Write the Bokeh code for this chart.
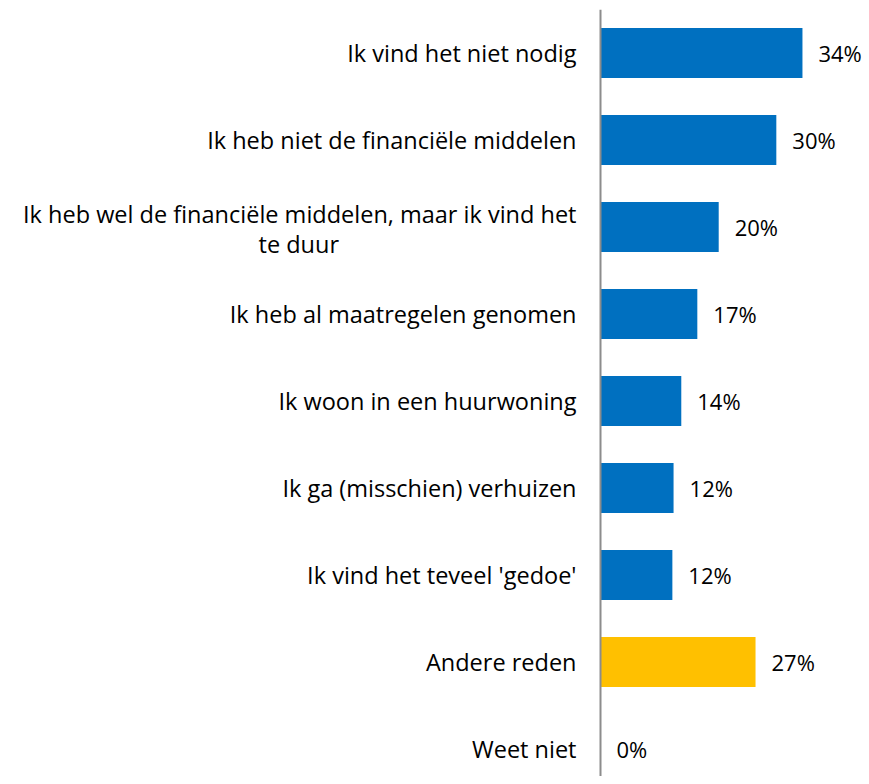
from bokeh.plotting import figure
from bokeh.models import Range1d, Span, ColumnDataSource
from bokeh.core.properties import value
from bokeh.embed import file_html
from bokeh.resources import INLINE

categories = [
    "Ik vind het niet nodig",
    "Ik heb niet de financiële middelen",
    "Ik heb wel de financiële middelen, maar ik vind het\nte duur",
    "Ik heb al maatregelen genomen",
    "Ik woon in een huurwoning",
    "Ik ga (misschien) verhuizen",
    "Ik vind het teveel 'gedoe'",
    "Andere reden",
    "Weet niet",
]
values = [34.0, 29.6, 19.9, 16.3, 13.6, 12.3, 12.1, 26.1, 0.0]
value_labels = ["34%", "30%", "20%", "17%", "14%", "12%", "12%", "27%", "0%"]
series_colors = {"main": "#0070C0", "other": "#FFC000"}

FONT = "Open Sans"
FS_LAB = "23.5px"
FS_VAL = "22px"
W, H = 867, 776
PX_PER_UNIT = 5.94
AXIS_PX = 600
CAT_PX = 87.0
TOP = 9

ys = list(range(len(categories)))
colors = [series_colors["other"] if c == "Andere reden" else series_colors["main"] for c in categories]

p = figure(width=W, height=H, output_backend="svg", toolbar_location=None,
           min_border_left=0, min_border_right=0, min_border_top=TOP, min_border_bottom=0)
x0 = -AXIS_PX / PX_PER_UNIT
p.x_range = Range1d(x0, x0 + W / PX_PER_UNIT)
frame_h = H - TOP
p.y_range = Range1d(-0.5 + frame_h / CAT_PX, -0.5)
p.xaxis.visible = False
p.yaxis.visible = False
p.xgrid.visible = False
p.ygrid.visible = False
p.outline_line_color = None
p.background_fill_color = "white"
p.border_fill_color = "white"

src = ColumnDataSource(dict(y=ys, v=values, c=colors, lab=value_labels))
p.hbar(y="y", left=0, right="v", height=50 / CAT_PX, fill_color="c", line_color=None, source=src)

p.add_layout(Span(location=0, dimension="height", line_color="#8c8c8c", line_width=2))

p.text(x="v", y="y", text="lab", source=src, x_offset=16, text_align="left",
       text_baseline="middle", text_font=value(FONT), text_font_size=FS_VAL, text_color="#000000")

lab_x = -24 / PX_PER_UNIT
sx, sy, st = [], [], []
cx, cy, ct = [], [], []
for y, c in zip(ys, categories):
    if "\n" in c:
        l1, l2 = c.split("\n")
        sx.append(lab_x); sy.append(y - 0.15); st.append(l1)
        cx.append(-50.8); cy.append(y + 0.19); ct.append(l2)
    else:
        sx.append(lab_x); sy.append(y); st.append(c)
p.text(x=sx, y=sy, text=st, text_align="right", text_baseline="middle",
       text_font=value(FONT), text_font_size=FS_LAB, text_color="#000000")
p.text(x=cx, y=cy, text=ct, text_align="center", text_baseline="middle",
       text_font=value(FONT), text_font_size=FS_LAB, text_color="#000000")

open("out.html", "w").write(file_html(p, INLINE))
